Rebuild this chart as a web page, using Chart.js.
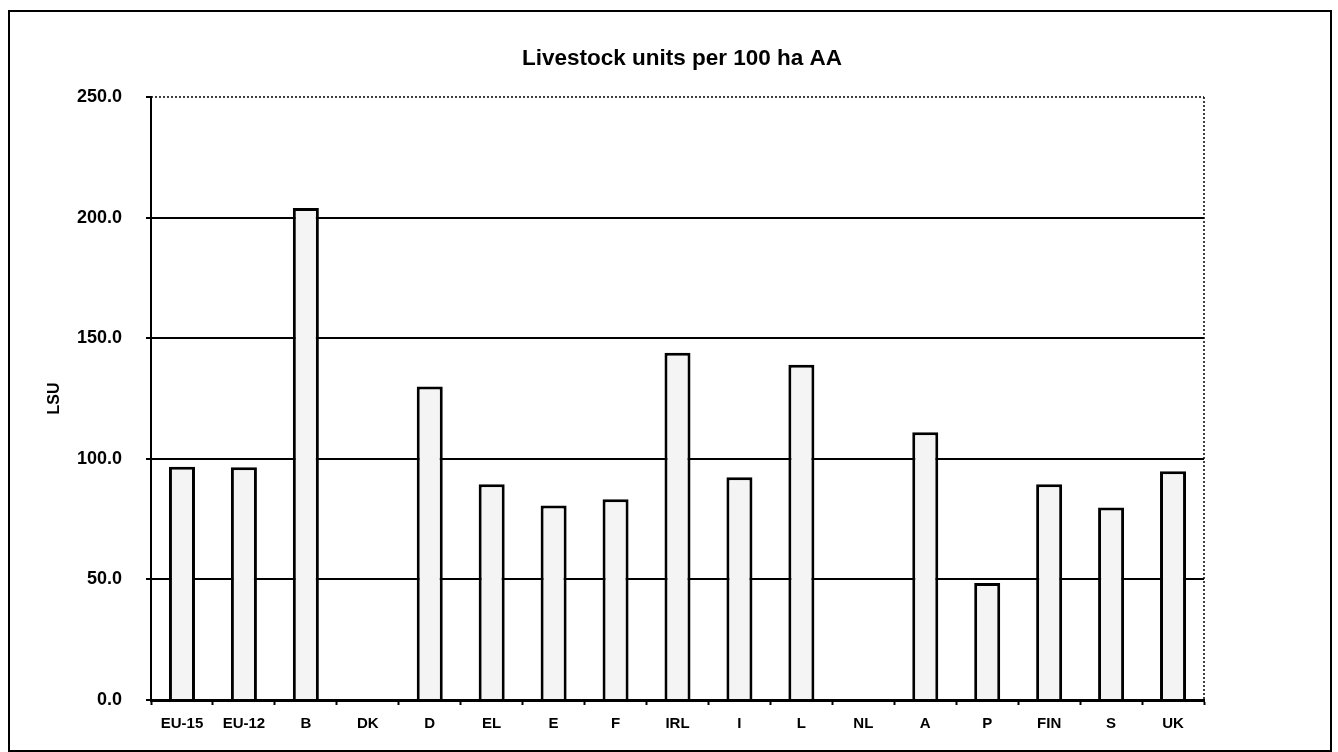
<!DOCTYPE html>
<html>
<head>
<meta charset="utf-8">
<script src="https://cdn.jsdelivr.net/npm/chart.js@4"></script>
<style>
  html, body { margin: 0; padding: 0; background: #fff; overflow: hidden; width: 1338px; height: 752px; }
  #frame { position: absolute; left: 8px; top: 10px; width: 1320px; height: 738px; border: 2px solid #000; }
  #wrap { position: absolute; left: 0; top: 0; width: 1364px; height: 752px; }
</style>
</head>
<body>
<div id="frame"></div>
<div id="wrap"><canvas id="c" width="1364" height="752"></canvas></div>
<script>
const categories = ['EU-15','EU-12','B','DK','D','EL','E','F','IRL','I','L','NL','A','P','FIN','S','UK'];
const lsuValues = [96.7, 96.5, 204, null, 130, 89.4, 80.6, 83.2, 144, 92.3, 139, null, 111, 48.5, 89.5, 79.8, 94.8];
const yTicks = [0, 50, 100, 150, 200, 250];
const chartTitle = 'Livestock units per 100 ha AA';
const yTitle = 'LSU';

const FONT = "'Liberation Sans', Arial, sans-serif";

const frameLines = {
  id: 'frameLines',
  afterDraw(chart) {
    const {ctx, chartArea, scales} = chart;
    const yTop = scales.y.getPixelForValue(250);
    ctx.save();
    ctx.strokeStyle = '#000';
    ctx.lineWidth = 1.5;
    ctx.setLineDash([2, 2]);
    ctx.beginPath();
    ctx.moveTo(chartArea.left, yTop);
    ctx.lineTo(chartArea.right, yTop);
    ctx.moveTo(chartArea.right, yTop);
    ctx.lineTo(chartArea.right, chartArea.bottom);
    ctx.stroke();
    ctx.restore();
  }
};

new Chart(document.getElementById('c'), {
  type: 'bar',
  data: {
    labels: categories,
    datasets: [{
      data: lsuValues,
      backgroundColor: '#f4f4f4',
      borderColor: '#000',
      borderWidth: 3,
      barPercentage: 0.42,
      categoryPercentage: 1.0
    }]
  },
  options: {
    responsive: false,
    animation: false,
    layout: { padding: { left: 0, right: 0, top: 0, bottom: 0 } },
    plugins: {
      legend: { display: false },
      tooltip: { enabled: false },
      title: {
        display: true,
        text: chartTitle,
        color: '#000',
        font: { family: FONT, size: 22.5, weight: 'bold' },
        padding: { top: 45, bottom: 25 }
      }
    },
    scales: {
      x: {
        afterFit(scale) { scale.height = 52; },
        border: { display: true, color: '#000', width: 3 },
        grid: {
          display: true,
          drawOnChartArea: false,
          drawTicks: true,
          offset: true,
          tickLength: 5,
          tickColor: '#000',
          tickWidth: 2
        },
        ticks: {
          color: '#000',
          padding: 10,
          maxRotation: 0,
          autoSkip: false,
          font: { family: FONT, size: 15, weight: 'bold' }
        }
      },
      y: {
        min: 0,
        max: 250,
        afterFit(scale) { scale.width = 151; },
        afterBuildTicks(scale) { scale.ticks = yTicks.map(v => ({ value: v })); },
        border: { display: true, color: '#000', width: 2 },
        grid: {
          color: (c) => (c.tick && c.tick.value === 250) ? 'rgba(0,0,0,0)' : '#000',
          lineWidth: 2,
          drawTicks: true,
          tickLength: 5,
          tickColor: '#000',
          tickWidth: 2
        },
        ticks: {
          color: '#000',
          padding: 24,
          font: { family: FONT, size: 18, weight: 'bold' },
          callback: (v) => Number(v).toFixed(1)
        },
        title: {
          display: true,
          text: yTitle,
          color: '#000',
          font: { family: FONT, size: 16, weight: 'bold' },
          padding: { top: 45, bottom: 0 }
        }
      },
      spacer: {
        type: 'linear',
        position: 'right',
        display: true,
        afterFit(scale) { scale.width = 160; },
        border: { display: false },
        grid: { display: false, drawTicks: false },
        ticks: { display: false }
      }
    }
  },
  plugins: [frameLines]
});
</script>
</body>
</html>
